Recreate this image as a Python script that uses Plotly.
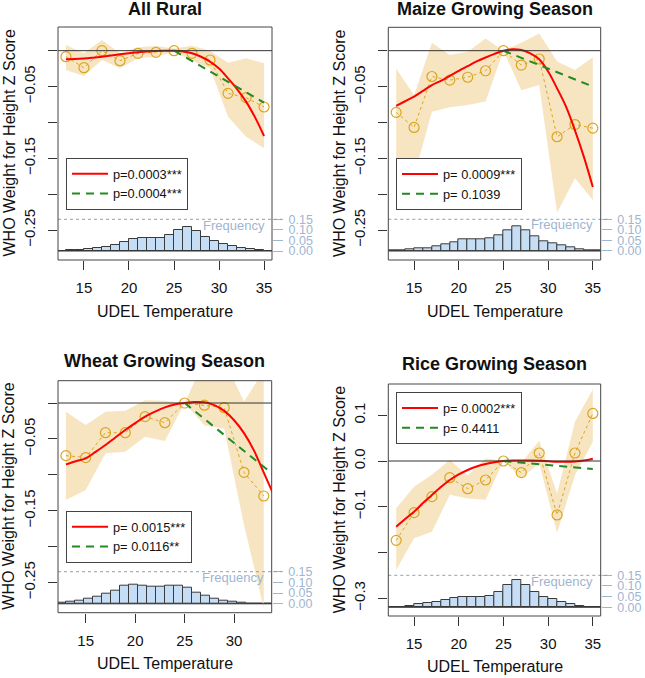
import plotly.graph_objects as go

# ---------------- data ----------------
temp = [13, 15, 17, 19, 21, 23, 25, 27, 29, 31, 33, 35]
temp_wheat = [13, 15, 17, 19, 21, 23, 25, 27, 29, 31, 33]
fit_x = list(range(13, 36))
fit_x_wheat = list(range(13, 35))
hist_centers = [12.5 + i for i in range(24)]

# All Rural
rural_mean = [-0.0084, -0.0237, 0.0, -0.014, -0.0037, -0.0023, 0.0, -0.0037, -0.013, -0.0595, -0.0655, -0.0785]
rural_upper = [0.008, -0.0037, 0.0149, -0.0037, 0.0046, 0.0065, 0.003, 0.007, 0.0, -0.0167, -0.0107, -0.0177]
rural_lower = [-0.027, -0.0353, -0.013, -0.0246, -0.0107, -0.0084, -0.002, -0.014, -0.0246, -0.092, -0.12, -0.136]
rural_fit = [-0.012, -0.0117, -0.011, -0.0098, -0.0084, -0.0068, -0.0051, -0.0036, -0.0023, -0.0012, -0.0005,
             -0.0001, 0.0, -0.001, -0.0037, -0.0085, -0.0153, -0.025, -0.0386, -0.0535, -0.071, -0.093, -0.119]
rural_lin_x = [25, 35]
rural_lin = [0.0, -0.0725]
rural_freq = [0.002, 0.003, 0.005, 0.008, 0.013, 0.020, 0.030, 0.041, 0.057, 0.063, 0.060, 0.062,
              0.075, 0.098, 0.112, 0.096, 0.068, 0.045, 0.034, 0.022, 0.013, 0.008, 0.003, 0.002]

# Maize
maize_mean = [-0.086, -0.107, -0.036, -0.041, -0.037, -0.028, 0.0, -0.020, -0.0116, -0.120, -0.103, -0.108]
maize_upper = [-0.025, -0.062, 0.011, -0.006, -0.0014, 0.017, 0.0, 0.011, 0.024, -0.015, -0.027, -0.0093]
maize_lower = [-0.17, -0.175, -0.085, -0.079, -0.0757, -0.071, 0.0, -0.055, -0.048, -0.226, -0.178, -0.208]
maize_fit = [-0.077, -0.0705, -0.064, -0.056, -0.048, -0.042, -0.035, -0.028, -0.0215, -0.015, -0.0095, -0.0045,
             0.0, 0.002, 0.001, -0.0037, -0.012, -0.029, -0.0525, -0.078, -0.111, -0.148, -0.19]
maize_lin_x = [25, 35]
maize_lin = [0.0, -0.050]
maize_freq = [0.002, 0.003, 0.006, 0.011, 0.014, 0.021, 0.029, 0.040, 0.053, 0.057, 0.056, 0.059,
              0.073, 0.097, 0.116, 0.097, 0.071, 0.046, 0.036, 0.024, 0.015, 0.008, 0.003, 0.001]

# Wheat
wheat_mean = [-0.0733, -0.076, -0.0413, -0.0413, -0.019, -0.0274, 0.0, -0.003, -0.0065, -0.0966, -0.1295]
wheat_upper = [-0.012, -0.0306, -0.012, -0.0107, 0.004, 0.003, 0.0, 0.06, 0.06, 0.002, 0.045]
wheat_lower = [-0.135, -0.121, -0.070, -0.068, -0.047, -0.053, 0.0, -0.031, -0.036, -0.17, -0.286]
wheat_fit = [-0.0854, -0.081, -0.077, -0.068, -0.0585, -0.048, -0.0376, -0.028, -0.019, -0.012, -0.006,
             -0.002, 0.0, 0.0015, 0.001, -0.003, -0.011, -0.024, -0.042, -0.066, -0.097, -0.128]
wheat_lin_x = [25, 34]
wheat_lin = [0.0, -0.100]
wheat_freq = [0.003, 0.008, 0.014, 0.022, 0.033, 0.048, 0.063, 0.084, 0.091, 0.086, 0.080, 0.078,
              0.083, 0.084, 0.076, 0.052, 0.036, 0.023, 0.016, 0.008, 0.003, 0.001, 0.0005, 0.0]

# Rice
rice_mean = [-0.1737, -0.113, -0.078, -0.0365, -0.0606, -0.0416, 0.0, -0.0255, 0.0175, -0.118, 0.0175, 0.104]
rice_upper = [-0.1036, -0.0562, -0.03, 0.002, -0.032, 0.006, 0.0, -0.004, 0.0445, -0.071, 0.086, 0.157]
rice_lower = [-0.2387, -0.169, -0.155, -0.074, -0.082, -0.085, 0.0, -0.038, -0.005, -0.157, -0.031, 0.042]
rice_fit = [-0.144, -0.127, -0.111, -0.092, -0.0745, -0.057, -0.0416, -0.0295, -0.0197, -0.012, -0.0066,
            -0.0025, 0.0, 0.001, 0.0012, 0.001, 0.0005, -0.0005, -0.0015, -0.0018, -0.001, 0.001, 0.005]
rice_lin_x = [25, 35]
rice_lin = [0.0, -0.0175]
rice_freq = [0.002, 0.003, 0.008, 0.014, 0.019, 0.027, 0.033, 0.045, 0.047, 0.048, 0.048, 0.053,
             0.073, 0.105, 0.127, 0.106, 0.072, 0.047, 0.041, 0.027, 0.014, 0.008, 0.003, 0.002]

titles = ["All Rural", "Maize Growing Season", "Wheat Growing Season", "Rice Growing Season"]
p_quad = ["p=0.0003***", "p= 0.0009***", "p= 0.0015***", "p= 0.0002***"]
p_lin = ["p=0.0004***", "p= 0.1039", "p= 0.0116**", "p= 0.4411"]
x_label = "UDEL Temperature"
y_label = "WHO Weight for Height Z Score"
freq_label = "Frequency"
freq_ticks = [0.0, 0.05, 0.10, 0.15]
freq_ticktext = ["0.00", "0.05", "0.10", "0.15"]

# ---------------- styling / layout ----------------
W, H = 645, 678
FONT = "Liberation Sans, Arial, Helvetica, sans-serif"
RED = "#FF0000"
GREEN = "#228B22"
GOLD = "#DAA520"
BAND = "rgba(245,222,179,0.8)"
HISTFILL = "#C6DDF6"
LBLUE = "#9FB5D1"
BOXC = "#444444"


def aid(letter, n):
    return letter if n == 1 else f"{letter}{n}"


# pixel boxes: (left, right, top, bottom)
boxes = [(58, 272, 27, 260), (388.3, 600.7, 27.3, 260), (58, 271.7, 380.7, 612.7), (388.3, 600.7, 384, 616)]
val_ranges = [[-0.2918, 0.0330], [-0.2918, 0.0326], [-0.2921, 0.0311], [-0.3392, 0.1685]]
freq_ranges = [[-0.0426, 1.060], [-0.0438, 1.064], [-0.0416, 1.0425], [-0.0408, 1.0467]]
hist_xrange = [12.12, 35.88]
x_ranges = [[12.12, 35.88], [12.12, 35.88], [12.2, 33.8], [12.12, 35.88]]
x_ticks = [[15, 20, 25, 30, 35], [15, 20, 25, 30, 35], [15, 20, 25, 30], [15, 20, 25, 30, 35]]
y_tickvals = [[0, -0.05, -0.10, -0.15, -0.20, -0.25]] * 3 + [[0.1, 0.0, -0.1, -0.2, -0.3]]
y_ticktext = [["", "−0.05", "", "−0.15", "", "−0.25"]] * 3 + [["0.1", "0.0", "−0.1", "", "−0.3"]]
title_y = [9, 9, 361, 364]
xtitle_y = [311, 311, 663, 666]
legend_pos = [(66, 158), (396, 158.3), (66, 511), (396, 392.3)]

panels = [
    (temp, rural_mean, rural_upper, rural_lower, fit_x, rural_fit, rural_lin_x, rural_lin, rural_freq),
    (temp, maize_mean, maize_upper, maize_lower, fit_x, maize_fit, maize_lin_x, maize_lin, maize_freq),
    (temp_wheat, wheat_mean, wheat_upper, wheat_lower, fit_x_wheat, wheat_fit, wheat_lin_x, wheat_lin, wheat_freq),
    (temp, rice_mean, rice_upper, rice_lower, fit_x, rice_fit, rice_lin_x, rice_lin, rice_freq),
]

fig = go.Figure()
layout = dict(
    width=W, height=H, margin=dict(l=0, r=0, t=0, b=0, autoexpand=False),
    paper_bgcolor="white", plot_bgcolor="white",
    font=dict(family=FONT, color="#111111"),
    showlegend=True, bargap=0,
)
shapes, annotations = [], []

for i, (tx, mean, up, lo, fx, fy, lx, ly, freq) in enumerate(panels):
    n = i + 1
    L, R, T, B = boxes[i]
    xdom = [L / W, R / W]
    ydom = [1 - B / H, 1 - T / H]
    fy_id = aid("y", n)            # frequency axis (base, right)
    vy_id = f"y{n + 4}"            # value axis (overlay, left)
    hx_id = aid("x", n)            # hist x axis (base)
    dx_id = "x5" if n == 3 else hx_id   # data x axis
    lg = "legend" if n == 1 else f"legend{n}"

    # histogram
    fig.add_trace(go.Bar(x=hist_centers, y=freq, width=1, xaxis=hx_id, yaxis=fy_id,
                         marker=dict(color=HISTFILL, line=dict(color="#3A3A3A", width=1)),
                         showlegend=False, hoverinfo="skip"))
    # confidence band
    fig.add_trace(go.Scatter(x=tx + tx[::-1], y=up + lo[::-1], fill="toself", fillcolor=BAND,
                             mode="lines", line=dict(width=0, color=BAND), xaxis=dx_id, yaxis=vy_id,
                             showlegend=False, hoverinfo="skip"))
    # means
    fig.add_trace(go.Scatter(x=tx, y=mean, mode="lines+markers", xaxis=dx_id, yaxis=vy_id,
                             line=dict(color=GOLD, width=1, dash="dot"),
                             marker=dict(symbol="circle-open", size=10, color=GOLD, line=dict(width=1.2)),
                             showlegend=False))
    # fits
    fig.add_trace(go.Scatter(x=fx, y=fy, mode="lines", xaxis=dx_id, yaxis=vy_id, name=p_quad[i],
                             line=dict(color=RED, width=2, shape="spline", smoothing=1.0), legend=lg))
    fig.add_trace(go.Scatter(x=lx, y=ly, mode="lines", xaxis=dx_id, yaxis=vy_id, name=p_lin[i],
                             line=dict(color=GREEN, width=2, dash="8px,6px"), legend=lg))

    # axes
    common_x = dict(showgrid=False, zeroline=False, showline=False, ticks="outside", ticklen=9,
                    tickwidth=1, tickcolor="#333333", tickfont=dict(size=15, color="#111111"),
                    ticklabelstandoff=5, automargin=False)
    if n == 3:
        layout["xaxis3"] = dict(domain=xdom, range=hist_xrange, anchor="y3", visible=False,
                                showgrid=False, zeroline=False, automargin=False)
        layout["xaxis5"] = dict(overlaying="x3", range=x_ranges[i], anchor="y3",
                                tickvals=x_ticks[i], **common_x)
    else:
        layout["xaxis" if n == 1 else f"xaxis{n}"] = dict(domain=xdom, range=x_ranges[i], anchor=fy_id,
                                                           tickvals=x_ticks[i], **common_x)
    layout["yaxis" if n == 1 else f"yaxis{n}"] = dict(
        domain=ydom, range=freq_ranges[i], anchor=hx_id, side="right",
        tickvals=freq_ticks, ticktext=freq_ticktext, ticks="outside", ticklen=10,
        tickcolor=LBLUE, tickfont=dict(size=12.5, color=LBLUE), ticklabelstandoff=3,
        showgrid=False, zeroline=False, showline=False, automargin=False)
    layout[f"yaxis{n + 4}"] = dict(overlaying=fy_id, range=val_ranges[i], anchor=hx_id, side="left",
                                   tickvals=y_tickvals[i], ticktext=y_ticktext[i], tickangle=-90,
                                   ticks="outside", ticklen=9, tickwidth=1, tickcolor="#333333",
                                   tickfont=dict(size=15, color="#111111"), ticklabelstandoff=7,
                                   showgrid=False, zeroline=False, showline=False, automargin=False)

    # legend
    lx0, ly0 = legend_pos[i]
    layout[lg] = dict(x=lx0 / W, y=1 - ly0 / H, xanchor="left", yanchor="top", bgcolor="white",
                      bordercolor=BOXC, borderwidth=1, font=dict(size=12.8, family=FONT, color="#111111"),
                      itemwidth=36, tracegroupgap=0)

    # shapes
    xd = f"{hx_id} domain"
    bw = R - L
    shapes.append(dict(type="line", xref=xd, yref=fy_id, x0=0, x1=1 + 10 / bw, y0=0.15, y1=0.15,
                       line=dict(color="#8C9FBA", width=1, dash="3px,3px"), layer="above"))
    shapes.append(dict(type="line", xref=xd, yref=fy_id, x0=0, x1=1, y0=0, y1=0,
                       line=dict(color="#333333", width=1), layer="above"))
    shapes.append(dict(type="line", xref=xd, yref=vy_id, x0=0, x1=1, y0=0, y1=0,
                       line=dict(color="#333333", width=1), layer="above"))
    shapes.append(dict(type="rect", xref=xd, yref=f"{fy_id} domain", x0=0, x1=1, y0=0, y1=1,
                       line=dict(color=BOXC, width=1), layer="above"))

    # annotations
    cx = (L + R) / 2 / W
    annotations.append(dict(text=f"<b>{titles[i]}</b>", xref="paper", yref="paper", x=cx,
                            y=1 - title_y[i] / H, xanchor="center", yanchor="middle", showarrow=False,
                            font=dict(size=18, family=FONT, color="#111111")))
    annotations.append(dict(text=x_label, xref="paper", yref="paper", x=cx, y=1 - xtitle_y[i] / H,
                            xanchor="center", yanchor="middle", showarrow=False,
                            font=dict(size=16, family=FONT, color="#111111")))
    annotations.append(dict(text=y_label, xref="paper", yref="paper", x=(L - 49) / W,
                            y=1 - (T + B) / 2 / H, xanchor="center", yanchor="middle", textangle=-90,
                            showarrow=False, font=dict(size=16, family=FONT, color="#111111")))
    annotations.append(dict(text=freq_label, xref=xd, yref=fy_id, x=0.975, y=0.123, xanchor="right",
                            yanchor="middle", showarrow=False, font=dict(size=13, family=FONT, color=LBLUE)))

layout["shapes"] = shapes
layout["annotations"] = annotations
fig.update_layout(**layout)
fig.write_html("out.html", config={"displayModeBar": False},
               post_script="document.body.style.margin='0px';")
